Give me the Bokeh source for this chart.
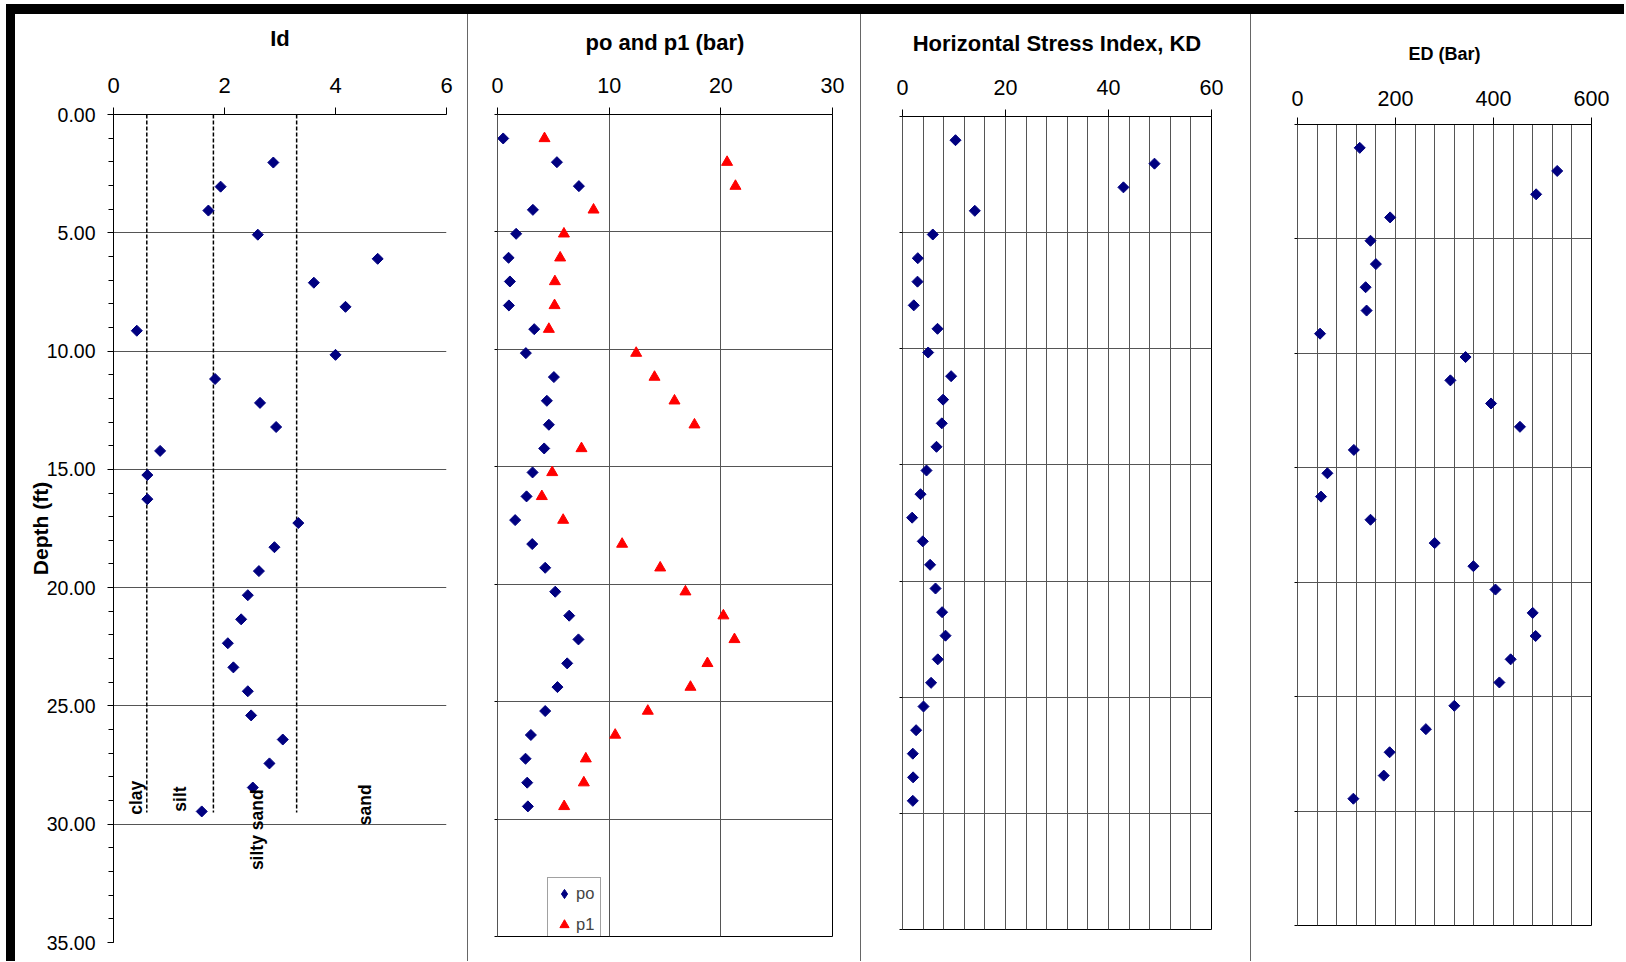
import math
from bokeh.plotting import figure
from bokeh.models import Range1d, FixedTicker, Div, NumeralTickFormatter
from bokeh.layouts import row, column
from bokeh.embed import file_html
from bokeh.resources import INLINE
from bokeh.core.properties import value

# ---------------- data ----------------
depth_ft = [1.02, 2.03, 3.05, 4.06, 5.08, 6.10, 7.11, 8.13, 9.14, 10.16,
            11.18, 12.19, 13.21, 14.22, 15.24, 16.26, 17.27, 18.29, 19.30, 20.32,
            21.34, 22.35, 23.37, 24.38, 25.40, 26.42, 27.43, 28.45, 29.46]

id_depth_ft = [2.03, 3.05, 4.06, 5.08, 6.10, 7.11, 8.13, 9.14, 10.16,
               11.18, 12.19, 13.21, 14.22, 15.24, 16.26, 17.27, 18.29, 19.30, 20.32,
               21.34, 22.35, 23.37, 24.38, 25.40, 26.42, 27.43, 28.45, 29.46]
id_values = [2.88, 1.93, 1.71, 2.60, 4.76, 3.61, 4.18, 0.42, 4.00, 1.83,
             2.64, 2.93, 0.84, 0.61, 0.61, 3.33, 2.90, 2.62, 2.42, 2.30,
             2.06, 2.16, 2.42, 2.48, 3.05, 2.81, 2.51, 1.59]

po_bar = [0.51, 5.32, 7.29, 3.17, 1.67, 0.99, 1.11, 1.02, 3.29, 2.54,
          5.05, 4.42, 4.60, 4.18, 3.14, 2.60, 1.58, 3.11, 4.27, 5.17,
          6.42, 7.25, 6.24, 5.37, 4.27, 2.99, 2.51, 2.66, 2.72]
p1_bar = [4.21, 20.56, 21.31, 8.60, 5.95, 5.61, 5.14, 5.11, 4.60, 12.42,
          14.06, 15.85, 17.64, 7.52, 4.90, 3.97, 5.88, 11.16, 14.57, 16.83,
          20.23, 21.22, 18.80, 17.28, 13.46, 10.54, 7.91, 7.73, 5.97]
kd_values = [10.29, 48.93, 42.90, 14.04, 5.88, 2.97, 2.91, 2.19, 6.80, 4.98,
             9.44, 7.88, 7.63, 6.60, 4.66, 3.50, 1.87, 3.94, 5.36, 6.41,
             7.69, 8.35, 6.85, 5.55, 4.08, 2.64, 2.00, 2.06, 2.00]
ed_bar = [127, 530, 487, 189, 149, 160, 139, 141, 46, 343,
          312, 395, 454, 115, 61, 48, 149, 280, 359, 404,
          480, 486, 435, 412, 320, 262, 188, 176, 114]

# soil classification boundaries on the Id scale
id_boundaries = [0.6, 1.8, 3.3]
boundary_depth = [0.0, 29.5]
soil_labels = ["clay", "silt", "silty sand", "sand"]
soil_label_id = [0.41, 1.20, 2.59, 4.54]
soil_label_depth = [29.6, 29.47, 31.94, 30.04]

panel_titles = ["Id", "po and p1 (bar)", "Horizontal Stress Index, KD", "ED (Bar)"]
series_names = ["po", "p1"]

depth_ticks = [0, 5, 10, 15, 20, 25, 30, 35]
depth_minor = list(range(0, 36))
id_ticks = [0, 2, 4, 6]
pp_ticks = [0, 10, 20, 30]
kd_ticks = [0, 20, 40, 60]
kd_grid = list(range(0, 61, 4))
ed_ticks = [0, 200, 400, 600]
ed_grid = list(range(0, 601, 40))

FONT = "Liberation Sans"
NAVY = "#000080"
GRID = "#555555"
TOP = 100      # identical top border for every panel
BOTTOM = 19    # identical bottom border for every panel


def make_fig(xr, fw, fh, bl, br, title, title_size, title_standoff,
             tick_size, xticks, tick_standoff):
    p = figure(frame_width=fw, frame_height=fh,
               x_range=Range1d(*xr), y_range=Range1d(35, 0),
               x_axis_location="above", output_backend="svg",
               toolbar_location=None, title=None,
               min_border_left=bl, min_border_right=br,
               min_border_top=TOP, min_border_bottom=BOTTOM)
    p.background_fill_color = "white"
    p.border_fill_color = "white"
    xa = p.xaxis[0]
    # the panel title is drawn as the label of the top axis
    xa.axis_label = title
    xa.axis_label_text_font = FONT
    xa.axis_label_text_font_style = "bold"
    xa.axis_label_text_font_size = title_size
    xa.axis_label_text_color = "black"
    xa.axis_label_standoff = title_standoff
    xa.ticker = FixedTicker(ticks=xticks)
    xa.major_label_text_font = FONT
    xa.major_label_text_font_size = tick_size
    xa.major_label_text_color = "black"
    xa.major_tick_out = 7
    xa.major_tick_in = 0
    xa.minor_tick_out = 0
    xa.minor_tick_in = 0
    xa.major_label_standoff = tick_standoff
    xa.axis_line_color = "black"
    xa.major_tick_line_color = "black"
    return p


def diamonds(p, xs, ys):
    p.scatter(x=xs, y=ys, marker="square", angle=math.pi / 4,
              size=7.8, fill_color=NAVY, line_color=NAVY)


def style_plain_y(p):
    ya = p.yaxis[0]
    ya.ticker = FixedTicker(ticks=depth_ticks)
    ya.major_label_overrides = {t: "" for t in depth_ticks}
    ya.major_tick_out = 3
    ya.major_tick_in = 0
    ya.minor_tick_out = 0
    ya.minor_tick_in = 0
    ya.axis_line_color = GRID
    ya.major_tick_line_color = "black"
    p.ygrid.ticker = FixedTicker(ticks=depth_ticks)
    p.ygrid.grid_line_color = GRID
    p.outline_line_color = "black"


# ---------------- panel 1 : Id ----------------
p_id = make_fig((0, 6), 333, 828, 98, 21, panel_titles[0], "22px", 24,
                "22px", id_ticks, 15)
ya = p_id.yaxis[0]
ya.ticker = FixedTicker(ticks=depth_ticks, minor_ticks=depth_minor)
ya.formatter = NumeralTickFormatter(format="0.00")
ya.major_label_text_font = FONT
ya.major_label_text_font_size = "19.5px"
ya.major_label_text_color = "black"
ya.major_tick_out = 6
ya.major_tick_in = 0
ya.minor_tick_out = 5
ya.minor_tick_in = 0
ya.major_label_standoff = 12
ya.axis_line_color = "black"
ya.axis_label = "Depth (ft)"
ya.axis_label_text_font = FONT
ya.axis_label_text_font_style = "bold"
ya.axis_label_text_font_size = "21px"
ya.axis_label_text_color = "black"
ya.axis_label_standoff = -8
p_id.xgrid.grid_line_color = None
p_id.ygrid.ticker = FixedTicker(ticks=depth_ticks[1:])
p_id.ygrid.grid_line_color = GRID
p_id.outline_line_color = None

for b in id_boundaries:
    p_id.line(x=[b, b], y=boundary_depth, line_color="black",
              line_width=1.5, line_dash="4 2")
diamonds(p_id, id_values, id_depth_ft)
p_id.text(x=soil_label_id, y=soil_label_depth, text=soil_labels,
          angle=math.pi / 2, text_align="left", text_baseline="middle",
          text_font=value(FONT), text_font_style="bold",
          text_font_size="17.5px", text_color="black")

# ---------------- panel 2 : po and p1 ----------------
p_pp = make_fig((0, 30), 335, 822, 29, 28, panel_titles[1], "22px", 20,
                "21.5px", pp_ticks, 15)
style_plain_y(p_pp)
p_pp.xgrid.ticker = FixedTicker(ticks=pp_ticks)
p_pp.xgrid.grid_line_color = GRID
# diamond shaped legend entry (hidden beneath the rotated squares)
p_pp.scatter(x=po_bar, y=depth_ft, marker="diamond", size=8,
             fill_color=NAVY, line_color=NAVY, legend_label=series_names[0])
diamonds(p_pp, po_bar, depth_ft)
p_pp.scatter(x=p1_bar, y=depth_ft, marker="triangle", size=11,
             fill_color="red", line_color="red", legend_label=series_names[1])
lg = p_pp.legend[0]
lg.location = (50, -5)
lg.margin = 0
lg.padding = 4
lg.spacing = 8
lg.glyph_width = 24
lg.glyph_height = 23
lg.label_height = 23
lg.label_standoff = 0
lg.label_text_font = FONT
lg.label_text_font_size = "16.5px"
lg.border_line_color = "#444444"
lg.border_line_width = 1
lg.background_fill_color = "white"
lg.background_fill_alpha = 1.0

# ---------------- panel 3 : KD ----------------
p_kd = make_fig((0, 60), 309, 813, 41, 39, panel_titles[2], "22px", 21,
                "21.5px", kd_ticks, 15)
style_plain_y(p_kd)
p_kd.xgrid.ticker = FixedTicker(ticks=kd_grid)
p_kd.xgrid.grid_line_color = GRID
diamonds(p_kd, kd_values, depth_ft)

# ---------------- panel 4 : ED ----------------
p_ed = make_fig((0, 600), 294, 801, 46, 33, panel_titles[3], "18px", 24,
                "21.5px", ed_ticks, 12)
style_plain_y(p_ed)
p_ed.xgrid.ticker = FixedTicker(ticks=ed_grid)
p_ed.xgrid.grid_line_color = GRID
diamonds(p_ed, ed_bar, depth_ft)


def bar(w, h, color):
    return Div(text="", width=w, height=h, margin=0,
               styles={"background-color": color})


H = 947
p_w = [452, 392, 389, 373]
above_gap = [0, 0, 2, 10]
below_gap = [0, 6, 13, 17]
cols = []
for fig, w, a, b in zip([p_id, p_pp, p_kd, p_ed], p_w, above_gap, below_gap):
    kids = []
    if a:
        kids.append(bar(w, a, "white"))
    kids.append(fig)
    if b:
        kids.append(bar(w, b, "white"))
    cols.append(column(*kids, spacing=0))

panels = row(bar(9, H, "black"), cols[0], bar(1, H, "#666666"), cols[1],
             bar(1, H, "#666666"), cols[2], bar(1, H, "#666666"), cols[3],
             spacing=0)
layout = row(
    bar(6, 4 + 10 + H, "white"),
    column(bar(1618, 4, "white"), bar(1618, 10, "black"), panels, spacing=0),
    spacing=0,
)

open("out.html", "w").write(file_html(layout, INLINE))
